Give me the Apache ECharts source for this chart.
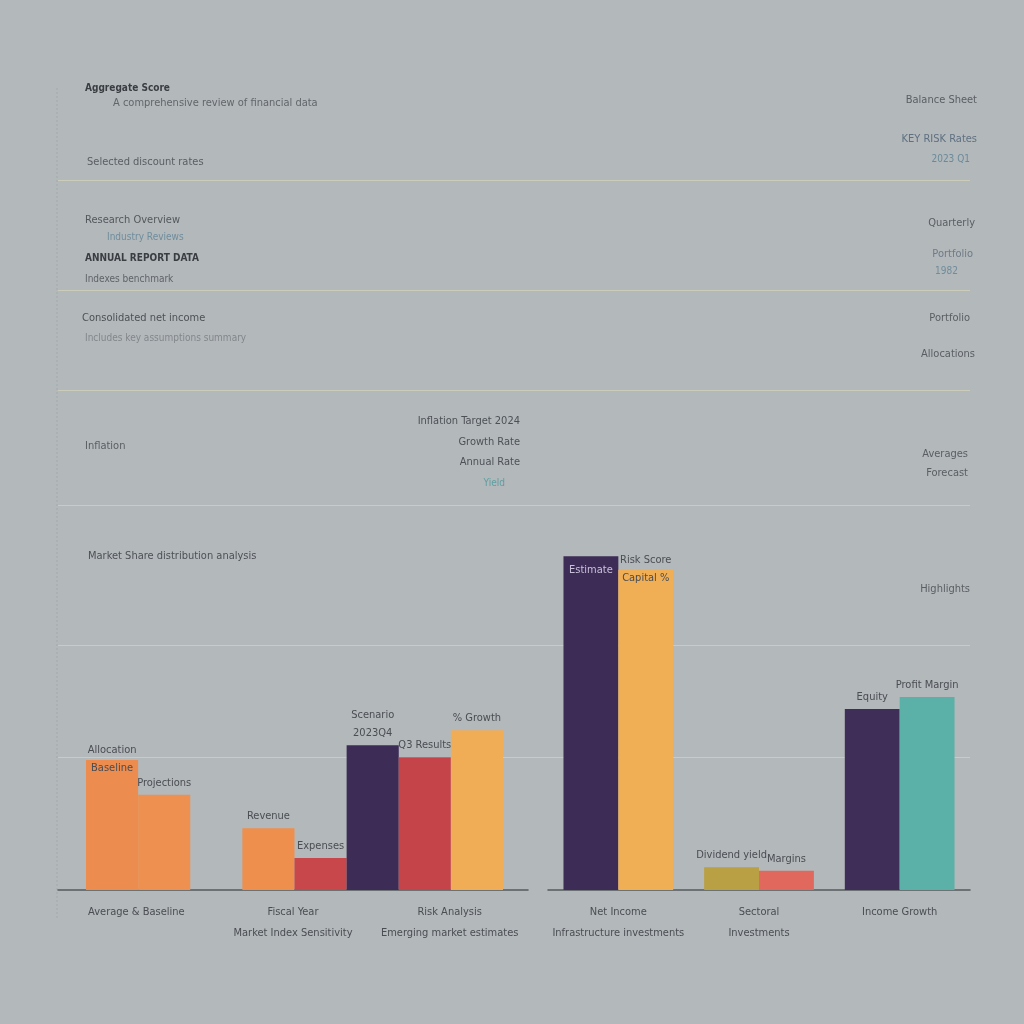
<!DOCTYPE html>
<html>
<head>
<meta charset="utf-8">
<script src="https://cdn.jsdelivr.net/npm/echarts@6/dist/echarts.min.js"></script>
<style>
html,body{margin:0;padding:0;background:#b3b8bb;}
#chart{width:1024px;height:1024px;}
</style>
</head>
<body>
<div id="chart"></div>
<script>
// ---------- DATA ----------
// Left panel: one slot per bar (empty slot = gap between groups)
const leftSlots = ['Average', 'Baseline', '', 'Fiscal Year', 'Market Index', 'Risk A', 'Risk B', 'Risk C'];
const leftValues = [18.3, 13.4, null, 8.7, 4.5, 20.4, 18.7, 22.5];
const leftBarLabels = ['Allocation\nBaseline', 'Projections', '', 'Revenue', 'Expenses', 'Scenario\n2023Q4', 'Q3 Results', '% Growth'];
const leftCategories = ['Average & Baseline', 'Fiscal Year\nMarket Index Sensitivity', 'Risk Analysis\nEmerging market estimates'];

// Right panel: grouped bars, two per category
const rightCategories = ['Net Income\nInfrastructure investments', 'Sectoral\nInvestments', 'Income Growth'];
const rightSeriesA = [47.0, 3.2, 25.5];
const rightSeriesB = [45.1, 2.7, 27.2];
const rightLabelsA = ['Estimate', 'Dividend yield', 'Equity'];
const rightLabelsB = ['Risk Score\nCapital %', 'Margins', 'Profit Margin'];

// Horizontal reference levels
const refLevels = [18.7, 34.5, 54.2, 70.4, 84.5, 100];

// ---------- STYLE ----------
const leftColors = ['#ec8c4f', '#ee904f', null, '#ee8f4e', '#c8474b', '#3d2c56', '#c5444a', '#f0ad56'];
const rightColorsA = ['#3d2c56', '#b9a044', '#3e2e58'];
const rightColorsB = ['#f0ae55', '#e0685c', '#5bb1a7'];
const FONT = "'DejaVu Sans Condensed','Liberation Sans Narrow','Liberation Sans',sans-serif";
const TXT = '#4a4d52';

const chart = echarts.init(document.getElementById('chart'));

const yAx = (gi) => ({ type: 'value', gridIndex: gi, min: 0, max: 100, show: false });

const txt = (x, y, s, opt) => ({
  type: 'text', x: x, y: y, z: 10,
  style: Object.assign({ text: s, fill: TXT, font: '11px ' + FONT }, opt || {})
});

const graphicTexts = [
  txt(85, 83, 'Aggregate Score', { font: 'bold 10px ' + FONT, fill: '#3a3d42' }),
  txt(113, 98, 'A comprehensive review of financial data', { fill: '#62666b' }),
  txt(87, 157, 'Selected discount rates', { fill: '#5a5e63' }),
  txt(977, 95, 'Balance Sheet', { textAlign: 'right', fill: '#5a5e63' }),
  txt(977, 134, 'KEY RISK Rates', { textAlign: 'right', fill: '#5f7080' }),
  txt(970, 154, '2023 Q1', { textAlign: 'right', fill: '#6a8a9a', font: '10px ' + FONT }),
  txt(85, 215, 'Research Overview', { fill: '#54585d' }),
  txt(107, 232, 'Industry Reviews', { fill: '#6f8d9c', font: '10px ' + FONT }),
  txt(85, 253, 'ANNUAL REPORT DATA', { font: 'bold 10px ' + FONT, fill: '#3a3d42' }),
  txt(85, 274, 'Indexes benchmark', { fill: '#5f6368', font: '10px ' + FONT }),
  txt(975, 218, 'Quarterly', { textAlign: 'right', fill: '#5a5e63' }),
  txt(973, 249, 'Portfolio', { textAlign: 'right', fill: '#6f7a85' }),
  txt(958, 266, '1982', { textAlign: 'right', fill: '#6f8d9c', font: '10px ' + FONT }),
  txt(82, 313, 'Consolidated net income', { fill: '#4d5156' }),
  txt(85, 333, 'Includes key assumptions summary', { fill: '#83878c', font: '10px ' + FONT }),
  txt(970, 313, 'Portfolio', { textAlign: 'right', fill: '#5a5e63' }),
  txt(975, 349, 'Allocations', { textAlign: 'right', fill: '#5a5e63' }),
  txt(85, 441, 'Inflation', { fill: '#5a5e63' }),
  txt(520, 416, 'Inflation Target 2024', { textAlign: 'right', fill: '#4d5156' }),
  txt(520, 437, 'Growth Rate', { textAlign: 'right', fill: '#4d5156' }),
  txt(520, 457, 'Annual Rate', { textAlign: 'right', fill: '#4d5156' }),
  txt(505, 478, 'Yield', { textAlign: 'right', fill: '#5e9fa0', font: '10px ' + FONT }),
  txt(968, 449, 'Averages', { textAlign: 'right', fill: '#5a5e63' }),
  txt(968, 468, 'Forecast', { textAlign: 'right', fill: '#5a5e63' }),
  txt(88, 551, 'Market Share distribution analysis', { fill: '#4d5156' }),
  txt(970, 584, 'Highlights', { textAlign: 'right', fill: '#5a5e63' }),
  { type: 'line', shape: { x1: 57, y1: 88, x2: 57, y2: 920 }, style: { stroke: '#a3a8ad', lineWidth: 1, lineDash: [2, 2] } }
];

const labelStyle = { fontFamily: FONT, fontSize: 11, color: TXT, lineHeight: 18 };
const axisLab = { color: TXT, fontFamily: FONT, fontSize: 11, lineHeight: 21, margin: 12, interval: 0 };

// labels that straddle the top edge of their bar (first line above, second inside)
const straddle = { position: 'insideTop', distance: 0, offset: [0, -19] };
const inside = { position: 'insideTop', distance: 5, color: '#c9c1da' };

const option = {
  backgroundColor: '#b3b8bb',
  animation: false,
  textStyle: { fontFamily: FONT },
  grid: [
    { left: 86, right: 521, top: 180, bottom: 134 },   // 0 left bars (slots)
    { left: 548, right: 54, top: 180, bottom: 134 },   // 1 right bars
    { left: 58, right: 496, top: 180, bottom: 134 },   // 2 left category labels + baseline
    { left: 58, right: 54, top: 180, bottom: 134 }     // 3 overlay for reference lines
  ],
  xAxis: [
    { type: 'category', gridIndex: 0, data: leftSlots, show: false },
    { type: 'category', gridIndex: 1, data: rightCategories,
      axisLine: { lineStyle: { color: '#55595e', width: 1.5 } }, axisTick: { show: false },
      axisLabel: axisLab },
    { type: 'category', gridIndex: 2, data: leftCategories,
      axisLine: { lineStyle: { color: '#55595e', width: 1.5 } }, axisTick: { show: false },
      axisLabel: axisLab },
    { type: 'value', gridIndex: 3, min: 0, max: 1, show: false }
  ],
  yAxis: [yAx(0), yAx(1), yAx(2), yAx(3)],
  graphic: graphicTexts,
  series: [
    {
      type: 'line', xAxisIndex: 3, yAxisIndex: 3, data: [[0, 0]], symbol: 'none',
      lineStyle: { opacity: 0 }, silent: true, z: 0,
      markLine: {
        silent: true, symbol: 'none', label: { show: false }, z: 0,
        lineStyle: { color: '#cfcfba', width: 1.2, type: 'solid', opacity: 0.85 },
        data: refLevels.map(v => ({ yAxis: v }))
      }
    },
    {
      type: 'bar', xAxisIndex: 0, yAxisIndex: 0, barCategoryGap: '0%', z: 3,
      data: leftValues.map((v, i) => ({ value: v, itemStyle: { color: leftColors[i] },
        label: i === 0 ? straddle : undefined })),
      label: Object.assign({ show: true, position: 'top', distance: 3,
        formatter: p => leftBarLabels[p.dataIndex] }, labelStyle)
    },
    {
      type: 'bar', xAxisIndex: 1, yAxisIndex: 1, barGap: '0%', barCategoryGap: '22%', z: 3,
      data: rightSeriesA.map((v, i) => ({ value: v, itemStyle: { color: rightColorsA[i] },
        label: i === 0 ? inside : undefined })),
      label: Object.assign({ show: true, position: 'top', distance: 3,
        formatter: p => rightLabelsA[p.dataIndex] }, labelStyle)
    },
    {
      type: 'bar', xAxisIndex: 1, yAxisIndex: 1, z: 3,
      data: rightSeriesB.map((v, i) => ({ value: v, itemStyle: { color: rightColorsB[i] },
        label: i === 0 ? straddle : undefined })),
      label: Object.assign({ show: true, position: 'top', distance: 3,
        formatter: p => rightLabelsB[p.dataIndex] }, labelStyle)
    }
  ]
};
chart.setOption(option);
</script>
</body>
</html>
